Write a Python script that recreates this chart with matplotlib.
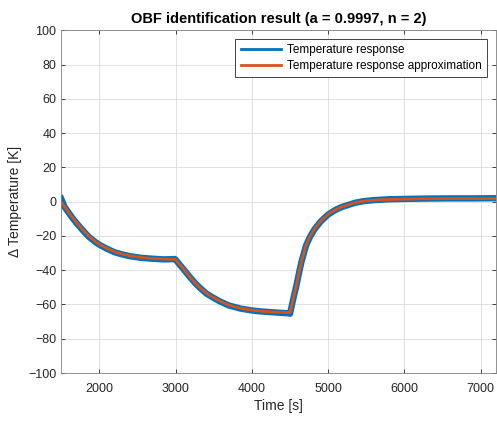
import matplotlib
matplotlib.use("Agg")
import matplotlib.pyplot as plt

plt.rcParams["font.family"] = ["Liberation Sans", "DejaVu Sans"]

# ── Data ────────────────────────────────────────────────────────────────────
time_s = [1500, 1550, 1600, 1650, 1700, 1775, 1860, 1950, 2000, 2100, 2200,
          2300, 2400, 2550, 2700, 2850, 2990,
          3000, 3050, 3100, 3180, 3250, 3310, 3400, 3480, 3580, 3700, 3850,
          4000, 4100, 4220, 4350, 4490,
          4500, 4540, 4580, 4620, 4650, 4710, 4760, 4820, 4900, 5000, 5100,
          5180, 5280, 5350, 5450, 5600, 5800, 6000, 6300, 6600, 6900, 7200]

approx_k = [0.0, -3.2, -6.3, -9.3, -12.0, -16.0, -20.0, -23.3, -24.8, -27.3, -29.2,
            -30.6, -31.6, -32.6, -33.2, -33.5, -33.6,
            -33.7, -36.5, -39.0, -43.5, -47.0, -49.8, -53.3, -55.5, -58.0, -60.4, -62.2,
            -63.3, -63.8, -64.2, -64.5, -64.7,
            -64.8, -57.0, -49.5, -41.0, -35.0, -25.5, -20.5, -16.0, -11.5, -7.3, -4.6,
            -3.0, -1.6, -0.6, 0.2, 0.9, 1.3, 1.5, 1.7, 1.8, 1.8, 1.8]

measured_k = [1.8, -3.4, -6.5, -9.6, -12.4, -16.3, -20.4, -23.6, -25.1, -27.5, -29.5,
              -30.8, -31.8, -32.8, -33.3, -33.7, -33.5,
              -33.8, -36.6, -39.2, -43.6, -47.2, -49.9, -53.5, -55.7, -58.2, -60.6, -62.4,
              -63.5, -64.0, -64.4, -64.8, -65.2,
              -65.4, -57.3, -49.7, -41.2, -35.2, -25.6, -20.7, -16.2, -11.7, -7.5, -4.7,
              -3.1, -1.7, -0.7, 0.2, 0.9, 1.4, 1.6, 1.8, 1.9, 1.9, 2.0]

x_ticks = [2000, 3000, 4000, 5000, 6000, 7000]
y_ticks = [-100, -80, -60, -40, -20, 0, 20, 40, 60, 80, 100]

BLUE = "#0072BD"
ORANGE = "#D95319"
AX_GRAY = "#262626"

# ── Plot ────────────────────────────────────────────────────────────────────
fig = plt.figure(figsize=(4.97, 4.21), dpi=100)
ax = fig.add_axes([0.123, 0.114, 0.875, 0.814])

ax.plot(time_s, measured_k, color=BLUE, linewidth=4.6,
        label="Temperature response")
ax.plot(time_s, approx_k, color=ORANGE, linewidth=2.0,
        label="Temperature response approximation")

ax.set_xlim(1500, 7200)
ax.set_ylim(-100, 100)
ax.set_xticks(x_ticks)
ax.set_yticks(y_ticks)
ax.tick_params(direction="in", length=3, width=0.6, colors=AX_GRAY,
               labelsize=9, top=True, right=True)
ax.tick_params(axis="x", pad=7)
for sp in ax.spines.values():
    sp.set_color("#808080")
    sp.set_linewidth(0.6)
ax.grid(True, color="#dcdcdc", linewidth=0.6)
ax.set_axisbelow(True)

ax.set_xlabel("Time [s]", fontsize=10, color=AX_GRAY, labelpad=3)
ax.set_ylabel("\u0394 Temperature [K]", fontsize=10, color=AX_GRAY, labelpad=4)
ax.set_title("OBF identification result (a = 0.9997, n = 2)", fontsize=10.5,
             fontweight="bold", pad=5)

leg = ax.legend(loc="upper right", fontsize=8.5, handlelength=3.4,
                fancybox=False, framealpha=1, edgecolor=AX_GRAY,
                borderpad=0.45, labelspacing=0.35, handletextpad=0.5,
                borderaxespad=0, bbox_to_anchor=(0.979, 0.976))
leg.get_frame().set_linewidth(0.6)
for h in leg.get_lines():
    h.set_linewidth(2.0)

fig.savefig("out.png", dpi=100)
